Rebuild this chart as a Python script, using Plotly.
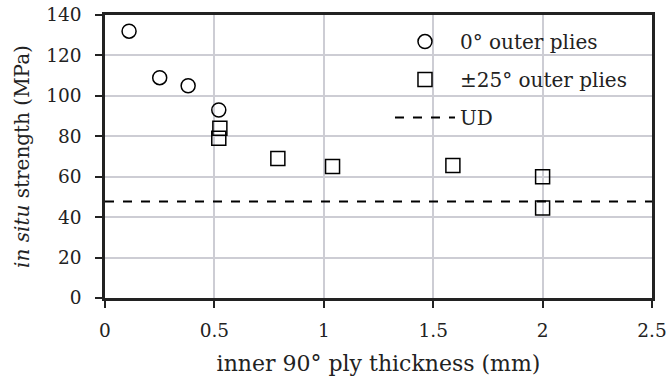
import plotly.graph_objects as go

x_zero = [0.11, 0.25, 0.38, 0.52]
y_zero = [132, 109, 105, 93]
x_pm25 = [0.525, 0.52, 0.79, 1.04, 1.59, 2.0, 2.0]
y_pm25 = [84, 79, 69, 65, 65.5, 60, 44.5]
ud_x = [0, 2.5]
ud_y = [47.7, 47.7]
x_ticks = [0, 0.5, 1, 1.5, 2, 2.5]
x_ticktext = ["0", "0.5", "1", "1.5", "2", "2.5"]
y_ticks = [0, 20, 40, 60, 80, 100, 120, 140]

FONT = "DejaVu Serif"

fig = go.Figure()
fig.add_trace(go.Scatter(x=x_zero, y=y_zero, mode="markers", name="0° outer plies", legendgroup="a",
                         marker=dict(symbol="circle-open", size=14, color="black", line=dict(width=1.5))))
fig.add_trace(go.Scatter(x=x_pm25, y=y_pm25, mode="markers", name="±25° outer plies", legendgroup="b",
                         marker=dict(symbol="square-open", size=14, color="black", line=dict(width=1.5))))
fig.add_trace(go.Scatter(x=ud_x, y=ud_y, mode="lines", name="UD", legendgroup="c",
                         line=dict(color="black", width=2, dash="dash")))

axis_common = dict(showline=True, linecolor="#222", linewidth=2.5, mirror=True,
                   ticks="outside", tickcolor="#222", ticklen=7, tickwidth=2,
                   showgrid=True, gridcolor="#cdcdd4", gridwidth=2, zeroline=False,
                   automargin=False, ticklabeloverflow="allow",
                   tickfont=dict(family=FONT, size=18.5, color="#222"))

fig.update_xaxes(range=[0, 2.5], tickvals=x_ticks, ticktext=x_ticktext, ticklabelstandoff=7,
                 title=dict(text="inner 90° ply thickness (mm)", font=dict(family=FONT, size=22, color="#222"), standoff=16),
                 **axis_common)
fig.update_yaxes(range=[0, 140], tickvals=y_ticks, ticklabelstandoff=10,
                 title=dict(text="<i>in situ</i> strength (MPa)", font=dict(family=FONT, size=20, color="#222"), standoff=12),
                 **axis_common)

fig.update_layout(
    template="none",
    width=667, height=378,
    margin=dict(l=105, r=15, t=15, b=80),
    plot_bgcolor="white", paper_bgcolor="white",
    legend=dict(x=0.521, y=0.975, xanchor="left", yanchor="top",
                bgcolor="rgba(0,0,0,0)", font=dict(family=FONT, size=20, color="#222"),
                itemwidth=60, tracegroupgap=9),
    showlegend=True,
)

fig.write_html("out.html", config={"displayModeBar": False},
               post_script="document.body.style.margin='0';document.body.style.overflow='hidden';")
